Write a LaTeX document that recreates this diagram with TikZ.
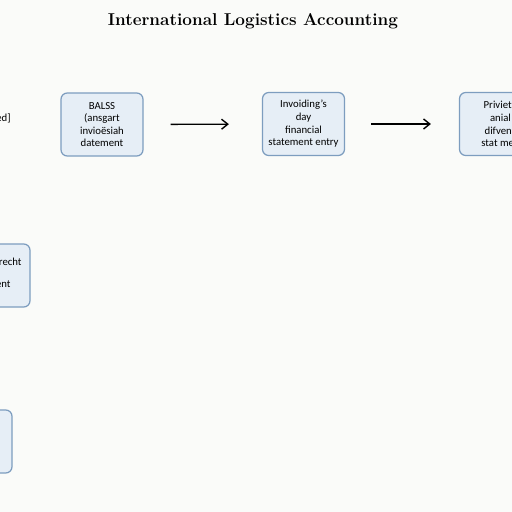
\documentclass[tikz,border=0pt]{standalone}
\usepackage{fontspec}
\setsansfont{Carlito}
\usepackage{xcolor}
\usetikzlibrary{positioning, arrows.meta}
\definecolor{boxFill}{RGB}{230, 238, 246}
\definecolor{boxEdge}{RGB}{125, 157, 191}
\definecolor{pageBg}{RGB}{250, 251, 249}

\begin{document}
\begin{tikzpicture}[x=0.8pt, y=-0.8pt, font=\fontsize{8.6}{10.1}\selectfont\sffamily,
        acctbox/.style={draw=boxEdge, line width=1pt, rounded corners=5pt, fill=boxFill,
            minimum width=65.6pt, minimum height=50.4pt, align=center, inner sep=2pt},
        flow/.style={-{Straight Barb[length=5pt, width=8pt]}, line width=1.1pt}]
        \clip (0,0) rectangle (512,512);
        \fill[pageBg] (0,0) rectangle (512,512);
        % title
        \node[font=\fontsize{13.7}{16}\selectfont\rmfamily\bfseries] (title) at (253,21) {International Logistics Accounting};
        % top row: statements
        \node[anchor=east] (edtag) at (15,118) {ed]};
        \node[acctbox] (balss) at (102,124.5) {BALSS\\(ansgart\\invioësiah\\datement};
        \node[acctbox] (invday) at (303.5,124) {Invoiding's\\day\\financial\\statement entry};
        \node[acctbox] (priv) at (500.5,124) {Privieth\\anial\\difvenc\\stat men};
        \draw[flow, shorten <=21.6pt, shorten >=26.4pt] (balss) -- (invday);
        \draw[flow, shorten <=20.8pt, shorten >=22.4pt] (invday) -- (priv);
        % left column, cut off at the edge
        \node[acctbox] (recbox) at (-11,275.5) {};
        \node[anchor=east] (rechtlab) at (26,262) {recht};
        \node[anchor=east] (entlab) at (15,284) {ent};
        \node[acctbox] (lowbox) at (-29,441.5) {};
    \end{tikzpicture}
\end{document}
